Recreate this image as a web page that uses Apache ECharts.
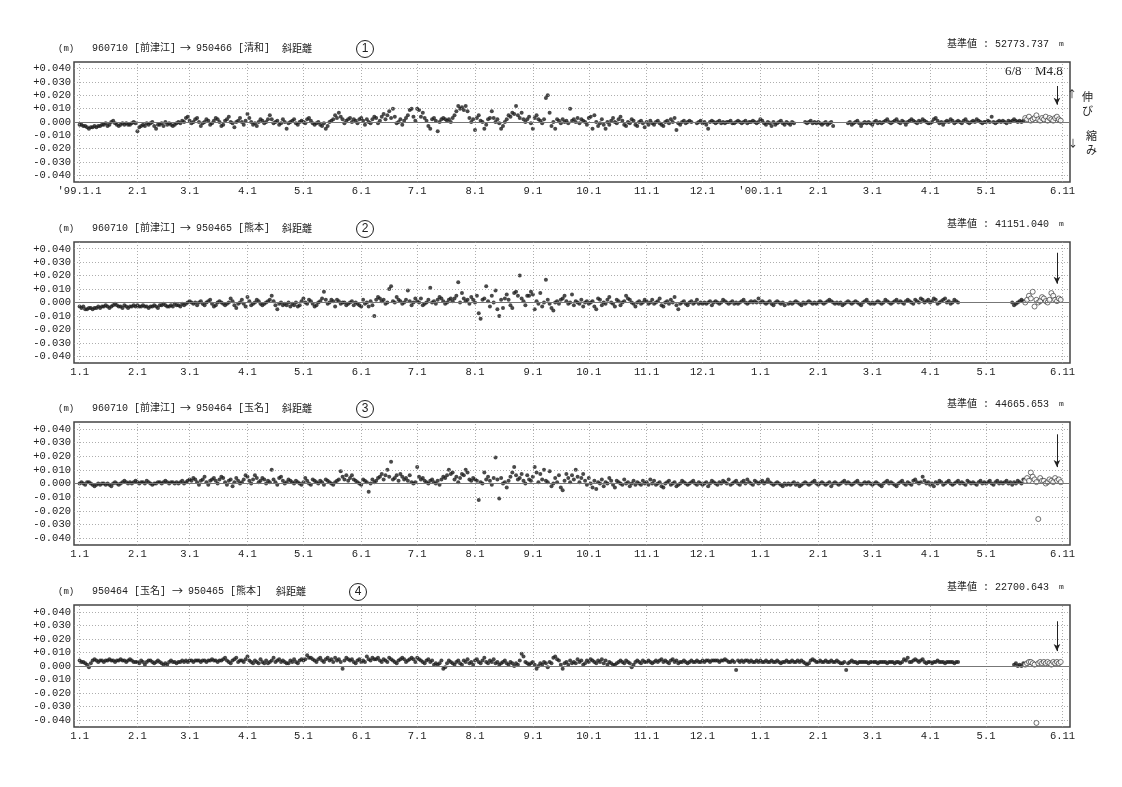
<!DOCTYPE html>
<html><head><meta charset="utf-8">
<script src="https://cdn.jsdelivr.net/npm/echarts@6/dist/echarts.min.js"></script>
<style>html,body{margin:0;background:#fff}#c{width:1122px;height:787px}</style>
</head><body><div id="c"></div><script>
const _ = null;
// ---- ticks ----
const tickDates = ['1999-01-01','1999-02-01','1999-03-01','1999-04-01','1999-05-01','1999-06-01','1999-07-01','1999-08-01','1999-09-01','1999-10-01','1999-11-01','1999-12-01','2000-01-01','2000-02-01','2000-03-01','2000-04-01','2000-05-01','2000-06-11'];
const tickLabelsTop = ["'99.1.1",'2.1','3.1','4.1','5.1','6.1','7.1','8.1','9.1','10.1','11.1','12.1',"'00.1.1",'2.1','3.1','4.1','5.1','6.11'];
const tickLabels = ['1.1','2.1','3.1','4.1','5.1','6.1','7.1','8.1','9.1','10.1','11.1','12.1','1.1','2.1','3.1','4.1','5.1','6.11'];
const yTicks = [-0.04,-0.03,-0.02,-0.01,0,0.01,0.02,0.03,0.04];
const months = ['1999-01','1999-02','1999-03','1999-04','1999-05','1999-06','1999-07','1999-08','1999-09','1999-10','1999-11','1999-12','2000-01','2000-02','2000-03','2000-04','2000-05','2000-06'];
const openFrom = '2000-05-22';
const quakeDate = '2000-06-08';
// ---- texts ----
const panelFrom = ['960710 [前津江]','960710 [前津江]','960710 [前津江]','950464 [玉名]'];
const panelTo = ['950466 [清和]','950465 [熊本]','950464 [玉名]','950465 [熊本]'];
const distLabel = '斜距離';
const baseValues = ['52773.737','41151.040','44665.653','22700.643'];
const panelNumbers = ['1','2','3','4'];
// ---- daily values (mm) per month ----
const p1 = [
[-2,-2,-3,-3,-4,-5,-4,-4,-3,-4,-3,-3,-2,-2,-1,-3,-2,0,1,-1,-2,-3,-2,-1,-2,-1,-2,-2,-1,0,-1],
[-7,-4,-3,-2,-3,-1,-2,-1,0,-3,-5,-2,-2,-1,-3,0,-2,-1,-2,-3,-2,-1,0,-1,1,0,3,4],
[1,-1,0,2,3,0,-3,-1,0,2,1,-2,-1,1,3,2,0,-3,-2,1,2,4,0,-1,-4,0,1,3,0,-2,1],
[6,3,0,-2,-1,-3,0,2,1,-1,0,2,5,2,-1,0,1,-2,-1,2,0,-5,-1,0,1,2,-1,-2,0,1],
[0,-1,2,3,1,-1,-2,-1,0,-2,-3,-1,-5,-3,0,1,2,5,3,7,4,2,-1,1,2,3,0,2,1,-1,2],
[3,1,-2,2,0,-1,2,4,3,-1,1,4,6,2,5,8,3,10,4,-1,0,2,-2,1,3,5,9,10,4,1],
[10,9,4,7,3,1,-3,-5,2,3,1,-7,0,2,3,2,1,2,0,3,5,8,12,10,11,9,12,8,3,0,2],
[-6,3,5,1,0,-5,-2,2,3,8,3,0,2,-1,-5,-3,0,2,5,4,7,6,12,5,3,7,2,0,2,4,-1],
[-5,3,5,2,1,-1,2,18,20,7,-3,0,-5,2,1,-1,2,0,1,-1,10,1,2,0,3,-1,2,1,0,-2],
[3,4,-5,5,0,-3,-1,2,-2,-5,0,-2,1,3,0,-1,2,4,1,-2,-3,0,-1,2,1,-2,-3,0,1,-1,-4],
[0,-2,1,-1,-2,0,1,-1,-2,-3,0,1,-1,2,0,3,-6,-1,-2,0,1,-1,0,1,0,_,_,-1,0,1],
[-1,0,-2,-5,0,1,0,-1,0,1,-1,0,-1,0,0,1,-1,-1,0,1,0,-1,0,1,-1,0,0,1,0,-1,0],
[2,1,-1,-2,0,-1,-3,0,-2,-1,0,1,-1,-2,0,-1,-2,0,-1,_,_,_,_,_,0,-1,0,1,-1,0,-1],
[0,-1,-2,-1,0,-2,-1,0,-3,_,_,_,_,_,_,_,-1,0,-2,-1,0,1,-1,-3,-1,0,-1,0,-1],
[-2,0,1,-1,0,-1,0,1,2,0,-1,0,1,2,0,-1,1,0,-2,0,1,2,1,0,-1,1,0,2,1,0,-1],
[-1,0,2,3,1,-1,0,-2,0,1,0,2,1,-1,0,1,0,-1,1,2,0,-1,0,1,0,2,1,0,-1,0],
[0,1,0,4,0,-1,0,1,0,1,0,-1,1,0,1,2,1,0,1,0,1,3,2,4,1,2,3,5,2,1,3],
[2,4,1,3,2,1,3,4,2,1]];
const p2 = [
[-3,-4,-3,-5,-5,-4,-4,-5,-4,-4,-3,-4,-3,-3,-2,-3,-4,-3,-2,-1,-2,-3,-3,-4,-2,-3,-4,-3,-3,-2,-3],
[-2,-3,-3,-2,-3,-3,-4,-3,-3,-2,-3,-4,-2,-2,-1,-2,-3,-3,-2,-3,-1,-2,-2,-3,-1,-2,-1,0],
[1,0,-1,0,-2,0,1,-1,-2,0,1,2,-1,-3,-2,0,1,0,-1,-2,-1,0,3,1,-2,-4,-1,0,2,-1,-3],
[4,1,-2,-1,0,2,1,-1,-2,-1,0,1,2,5,1,-2,-5,-1,0,-2,-1,-2,0,-3,-1,-2,0,-3,-2,1],
[3,0,-1,2,1,-1,-3,-2,0,1,3,8,2,-1,0,2,1,-3,2,1,-1,0,0,-2,-1,0,1,-2,0,-1,-2],
[-3,2,-1,0,-3,1,-2,-10,2,4,3,1,2,-1,0,10,12,1,0,4,2,1,-1,0,2,9,1,-2,0,3],
[1,0,3,-2,-1,0,2,11,0,1,-1,2,4,3,1,-1,0,2,3,1,3,5,15,0,7,3,1,2,-1,4,2],
[0,5,-8,-12,2,3,12,1,-3,5,0,9,-5,-10,2,-4,3,6,2,-2,-4,7,8,5,20,3,1,-2,5,5,8],
[6,-5,1,-1,7,-3,0,17,2,-1,-4,-6,0,1,-1,2,3,5,1,-1,0,6,-2,1,0,-1,2,-3,0,1],
[-1,0,1,-3,-5,3,2,-2,0,-1,2,4,0,-1,-3,2,1,-2,0,1,5,3,2,0,-1,-3,0,1,-1,0,2],
[1,-1,0,2,-1,0,1,3,-2,-3,0,1,-1,2,0,4,-2,-5,-1,0,1,-1,-2,0,1,-1,0,2,-1,0],
[-1,0,-1,0,1,-2,0,1,0,-1,0,2,1,0,-1,0,1,-1,0,-1,0,1,2,0,-1,0,1,0,1,0,3],
[0,1,0,-1,0,1,-1,-2,0,1,0,-1,0,-2,_,-1,0,-1,0,1,0,-1,-2,0,-1,0,1,0,-1,0,-1],
[0,1,0,-1,0,1,2,1,0,-1,0,-1,0,-2,-1,0,1,0,-1,0,1,0,-1,-2,0,1,2,0,-1],
[0,-1,0,1,0,-1,0,2,1,0,-1,0,1,2,0,1,0,-1,1,2,1,0,-1,2,1,0,3,2,0,1,2],
[0,1,3,2,-1,0,1,2,3,0,1,-1,0,2,1,0,_,_,_,_,_,_,_,_,_,_,_,_,_,_],
[_,_,_,_,_,_,_,_,_,_,_,_,_,_,0,-2,-1,0,1,2,1,0,2,5,3,8,-3,2,0,1,4],
[3,1,0,2,7,5,2,1,3,2]];
const p3 = [
[0,1,0,-1,1,1,0,-1,-2,-1,0,-1,0,0,-1,0,-1,-2,0,1,0,-1,0,1,2,1,0,1,0,1,2],
[1,0,1,1,0,2,1,0,-1,0,0,1,1,0,1,2,1,0,1,1,0,1,0,1,2,0,1,2],
[3,2,4,3,1,-1,2,3,5,1,-1,2,3,4,2,0,3,5,4,1,-1,2,3,-2,1,4,2,0,1,3,6],
[5,2,0,3,6,4,1,2,4,3,0,2,1,10,3,1,-1,4,5,2,0,1,3,2,1,0,2,1,0,-1],
[1,4,2,0,-1,3,2,1,0,2,1,-1,3,2,1,0,-1,1,2,3,9,5,3,6,2,4,6,3,2,1,0],
[-1,3,2,1,-6,0,3,1,2,4,5,7,3,6,10,5,16,3,4,6,2,7,5,3,4,2,6,1,0,1],
[12,5,3,4,2,1,0,2,3,1,0,2,-1,3,5,4,6,10,7,8,3,5,1,4,7,6,10,8,3,2,4],
[3,2,-12,1,0,8,3,5,2,-1,4,19,3,-11,4,0,1,-3,2,5,8,12,6,3,4,7,2,0,6,3,2],
[5,12,8,1,7,3,10,2,1,9,-2,0,4,1,6,-3,-5,2,7,4,1,6,3,10,5,1,4,7,2,-1],
[4,0,-3,2,-4,1,0,3,-2,1,0,4,2,-1,-3,2,1,0,-1,3,0,1,-2,0,2,-1,1,0,-1,2,0],
[1,-1,3,0,2,-1,0,1,-2,-3,0,1,2,-1,0,1,-2,-1,0,2,1,0,-1,0,1,2,0,-1,1,0],
[-1,0,1,-2,0,2,1,0,-1,1,0,2,1,0,3,-1,0,1,2,0,-1,1,2,0,3,1,0,-1,2,1,0],
[1,2,0,1,3,1,0,-1,0,1,0,-1,-2,0,-1,0,-1,0,1,-1,0,-2,-1,0,1,0,-1,0,1,2,0],
[-1,0,1,0,-1,0,1,-2,0,1,0,-1,0,1,2,0,1,0,-1,0,1,2,0,-1,0,1,0,1,0],
[-1,0,1,0,-1,-2,0,1,2,0,1,0,-1,-2,0,1,2,0,-1,1,0,-1,2,3,1,0,1,5,2,0,1],
[-1,0,-2,1,0,2,1,-1,0,1,2,0,-1,0,1,2,0,1,0,-1,2,1,0,1,0,-1,1,2,0,1],
[0,1,2,0,-1,1,2,0,1,0,1,2,0,1,-1,1,0,2,1,0,3,2,4,2,8,5,3,1,-26,4,2],
[2,0,1,3,2,1,4,2,3,1]];
const p4 = [
[4,3,3,2,1,-1,2,4,5,4,3,4,4,3,4,4,5,4,4,3,4,4,5,4,4,3,4,5,4,3,3],
[3,2,4,3,1,3,4,4,3,2,3,4,3,2,1,2,1,3,4,3,3,2,3,3,4,3,4,3],
[4,4,3,4,4,4,3,4,4,3,4,4,5,4,4,3,4,4,5,6,4,3,2,4,5,6,3,4,4,3,5],
[7,4,3,2,4,3,2,5,3,2,4,2,3,4,6,3,4,5,3,4,3,2,2,4,3,5,3,2,4,5],
[4,5,8,6,6,5,4,3,5,6,4,3,5,6,4,5,3,6,4,5,3,-2,4,6,5,4,5,3,2,4,5],
[3,4,3,7,5,4,6,5,5,6,4,3,5,4,3,6,5,4,3,2,4,5,6,5,3,4,5,6,5,3],
[6,5,4,3,2,4,5,3,4,1,2,1,2,4,-2,-1,2,4,3,2,1,3,4,2,1,4,3,5,2,3,1],
[4,5,3,2,4,6,3,2,4,3,5,2,3,1,2,3,4,2,1,3,2,0,2,1,4,9,7,3,2,1,2],
[3,1,-2,0,2,1,3,2,-1,3,2,6,7,5,4,1,-2,2,3,1,4,2,3,2,5,3,4,1,2,4],
[3,5,4,3,2,4,3,5,2,4,1,3,2,1,1,2,3,4,3,2,4,3,2,-1,1,3,4,3,2,4,3],
[3,4,3,2,3,4,3,4,5,3,4,3,2,4,5,3,4,2,3,3,4,3,2,3,4,3,3,4,3,3],
[4,3,4,4,3,4,4,4,4,3,4,4,5,4,3,3,4,3,-3,4,3,4,3,4,4,3,4,3,3,4,3],
[4,3,3,4,3,3,4,3,3,4,3,2,3,3,4,3,3,4,3,3,4,3,4,3,2,1,2,4,5,4,3],
[3,4,3,3,4,3,3,4,3,3,4,3,2,2,3,-3,2,3,4,3,3,2,3,3,3,3,3,2,3],
[3,3,3,2,3,3,3,3,2,3,3,3,2,3,3,2,3,5,4,6,3,3,4,5,4,3,4,5,3,2,3],
[3,2,3,3,4,3,3,3,2,3,3,3,3,2,3,3,_,_,_,_,_,_,_,_,_,_,_,_,_,_],
[_,_,_,_,_,_,_,_,_,_,_,_,_,_,_,1,2,0,1,0,2,1,2,3,3,2,1,-42,2,3,2],
[3,2,3,2,1,3,2,3,2,3]];
const panels = [p1,p2,p3,p4];
// arrow spans (m) pointing at the quake date
const arrowTop = [0.027,0.037,0.036,0.033];
const arrowBottom = [0.013,0.014,0.012,0.011];

// ---- helpers ----
const T0 = Date.UTC(1999,0,1);
function dayOf(s){const a=s.split('-').map(Number);return (Date.UTC(a[0],a[1]-1,a[2])-T0)/864e5;}
const tickDays = tickDates.map(dayOf);
function build(panel){
  const filled=[],open=[],cut=dayOf(openFrom);
  panel.forEach((arr,k)=>{
    const ym=months[k].split('-').map(Number);
    arr.forEach((v,i)=>{
      if(v===null) return;
      const d=(Date.UTC(ym[0],ym[1]-1,i+1)-T0)/864e5;
      (d>=cut?open:filled).push([d,v/1000]);
    });
  });
  return {filled,open};
}
const tops=[62,242,422,605], heights=[120,121,123,122];
const MONO='"Liberation Mono","Noto Sans CJK JP",monospace';
const CJK='"Noto Sans CJK JP","Liberation Mono",sans-serif';
const grids=[],xAxes=[],yAxes=[],series=[],graphic=[];
panels.forEach((p,i)=>{
  grids.push({left:74,right:52,top:tops[i],height:heights[i],show:true,borderColor:'#444',borderWidth:1.5,backgroundColor:'rgba(0,0,0,0)'});
  const labs = i===0?tickLabelsTop:tickLabels;
  xAxes.push({type:'value',gridIndex:i,min:-3,max:531,axisLine:{show:false},axisTick:{show:false},splitLine:{show:false},
    axisLabel:{customValues:tickDays,formatter:v=>labs[tickDays.indexOf(v)],fontFamily:MONO,fontSize:10.5,color:'#222',margin:4}});
  yAxes.push({type:'value',gridIndex:i,min:-0.045,max:0.045,axisLine:{show:false},axisTick:{show:false},splitLine:{show:false},
    axisLabel:{customValues:yTicks,formatter:v=>{const r=Math.round(v*1000)/1000;return (r>0?'+':r<0?'-':' ')+Math.abs(r).toFixed(3);},fontFamily:MONO,fontSize:10.5,color:'#222',margin:3}});
  const gl=[];
  tickDays.forEach(d=>gl.push({xAxis:d}));
  yTicks.forEach(v=>{ if(v!==0) gl.push({yAxis:v}); });
  gl.push({yAxis:0,lineStyle:{type:'solid',color:'#777',width:1}});
  series.push({type:'line',xAxisIndex:i,yAxisIndex:i,data:[],silent:true,z:1,
    markLine:{silent:true,symbol:['none','none'],label:{show:false},animation:false,
      lineStyle:{type:[1,2],color:'#999',width:0.8},data:gl}});
  const b=build(p);
  series.push({type:'scatter',xAxisIndex:i,yAxisIndex:i,data:b.filled,symbolSize:4,itemStyle:{color:'#1b1b1b'},z:3,silent:true});
  const qd=dayOf(quakeDate);
  series.push({type:'scatter',xAxisIndex:i,yAxisIndex:i,data:b.open,symbolSize:5,z:4,silent:true,
    itemStyle:{color:'#fff',borderColor:'#222',borderWidth:0.8},
    markLine:{silent:true,animation:false,label:{show:false},symbol:['none','arrow'],symbolSize:[5,7],
      lineStyle:{type:'solid',color:'#222',width:1},
      data:[[{coord:[qd,arrowTop[i]]},{coord:[qd,arrowBottom[i]]}]]}});
  const ty=tops[i]-12;
  graphic.push({type:'text',left:58,top:ty-6,style:{text:'(m)',font:'9px '+MONO,fill:'#222'}});
  graphic.push({type:'text',left:92,top:ty-7,style:{text:panelFrom[i],font:'10px '+MONO,fill:'#222'}});
  graphic.push({type:'text',left:i===3?172:180,top:ty-8,style:{text:'→',font:'11px '+CJK,fill:'#222'}});
  graphic.push({type:'text',left:i===3?188:196,top:ty-7,style:{text:panelTo[i],font:'10px '+MONO,fill:'#222'}});
  graphic.push({type:'text',left:i===3?276:282,top:ty-7,style:{text:distLabel,font:'10px '+CJK,fill:'#222'}});
  graphic.push({type:'circle',shape:{cx:i===3?358:365,cy:ty-1,r:8.5},style:{fill:'none',stroke:'#222',lineWidth:1}});
  graphic.push({type:'text',x:i===3?358:365,y:ty-1,style:{text:panelNumbers[i],font:'12px "Liberation Sans",sans-serif',fill:'#222',align:'center',verticalAlign:'middle'}});
  graphic.push({type:'text',left:947,top:ty-11,style:{text:'基準値 : '+baseValues[i],font:'10px '+MONO,fill:'#222'}});
  graphic.push({type:'text',left:1059,top:ty-10,style:{text:'m',font:'8px '+MONO,fill:'#222'}});
});
graphic.push({type:'text',left:1005,top:65,style:{text:'6/8',font:'13px "Liberation Serif",serif',fill:'#222'}});
graphic.push({type:'text',left:1035,top:65,style:{text:'M4.8',font:'13px "Liberation Serif",serif',fill:'#222'}});
graphic.push({type:'text',left:1067,top:89,style:{text:'↑',font:'10px '+CJK,fill:'#222'}});
graphic.push({type:'text',left:1082,top:90,style:{text:'伸\nび',font:'11px '+CJK,fill:'#222',lineHeight:14}});
graphic.push({type:'text',left:1068,top:138,style:{text:'↓',font:'10px '+CJK,fill:'#222'}});
graphic.push({type:'text',left:1086,top:129,style:{text:'縮\nみ',font:'11px '+CJK,fill:'#222',lineHeight:14}});

const chart=echarts.init(document.getElementById('c'),null,{renderer:'canvas'});
chart.setOption({animation:false,backgroundColor:'#fff',grid:grids,xAxis:xAxes,yAxis:yAxes,series,graphic});
</script></body></html>
